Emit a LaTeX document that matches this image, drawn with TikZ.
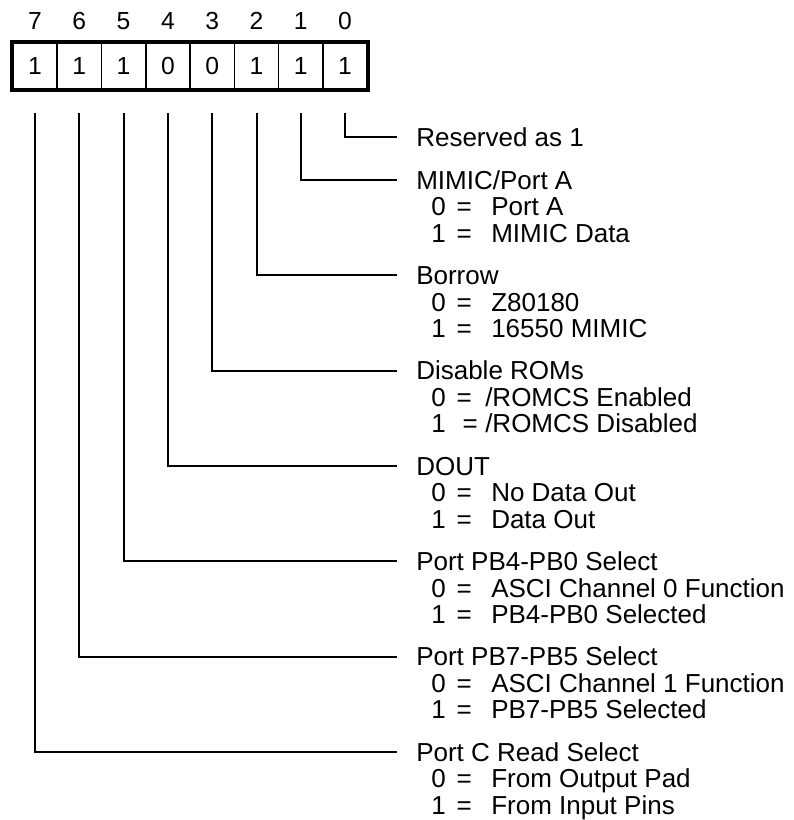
\documentclass[tikz,border=0pt]{standalone}
\usepackage{fontspec}
\setmainfont{Liberation Sans}
\NewDocumentCommand\optval{O{19.1pt}O{25.9pt}mm}{\makebox[#1][l]{#3}\makebox[#2][l]{=}#4}
\begin{document}
\begin{tikzpicture}[x=0.75pt,y=-0.75pt,
  lbl/.style={anchor=west,inner sep=0pt,text height=13.96pt,text depth=0pt,font=\fontsize{19.5}{23}\selectfont},
  optline/.style={lbl},
  hdr/.style={anchor=center,inner sep=0pt,text height=13.2pt,text depth=0pt,font=\fontsize{18.5}{22}\selectfont},
  cell/.style={draw,line width=1.1pt,minimum width=33.2pt,minimum height=35.3pt,inner sep=0pt,anchor=center,font=\fontsize{18.5}{22}\selectfont},
  wire/.style={line width=1.5pt}]
\useasboundingbox (0,0) rectangle (793,820);
% register cells and bit numbers
\foreach \b/\v [count=\k from 0] in {7/1,6/1,5/1,4/0,3/0,2/1,1/1,0/1}{
  \node[cell] (c\b) at ({35+44.3*\k},66.2) {\v};
  \node[hdr] (h\b) at ({35+44.3*\k},21) {\b};
  \coordinate (s\b) at ({35+44.3*\k},113);
}
\draw[line width=3pt] (c7.north west) rectangle (c0.south east);
% descriptions
\node[lbl] (t0) at (416,137) {Reserved as 1};
\node[lbl] (t1) at (416,180) {MIMIC/Port A};
\node[optline] (t1a) at (431,206.5) {\optval{0}{Port A}};
\node[optline] (t1b) at (431,233) {\optval{1}{MIMIC Data}};
\node[lbl] (t2) at (416,275.3) {Borrow};
\node[optline] (t2a) at (431,301.8) {\optval{0}{Z80180}};
\node[optline] (t2b) at (431,328.3) {\optval{1}{16550 MIMIC}};
\node[lbl] (t3) at (416,370.6) {Disable ROMs};
\node[optline] (t3a) at (431,397.1) {\optval[19.1pt][21.4pt]{0}{/ROMCS Enabled}};
\node[optline] (t3b) at (431,423.6) {\optval[23.5pt][17pt]{1}{/ROMCS Disabled}};
\node[lbl] (t4) at (416,465.9) {DOUT};
\node[optline] (t4a) at (431,492.4) {\optval{0}{No Data Out}};
\node[optline] (t4b) at (431,518.9) {\optval{1}{Data Out}};
\node[lbl] (t5) at (416,561.2) {Port PB4-PB0 Select};
\node[optline] (t5a) at (431,587.7) {\optval{0}{ASCI Channel 0 Function}};
\node[optline] (t5b) at (431,614.2) {\optval{1}{PB4-PB0 Selected}};
\node[lbl] (t6) at (416,656.5) {Port PB7-PB5 Select};
\node[optline] (t6a) at (431,683) {\optval{0}{ASCI Channel 1 Function}};
\node[optline] (t6b) at (431,709.5) {\optval{1}{PB7-PB5 Selected}};
\node[lbl] (t7) at (416,751.8) {Port C Read Select};
\node[optline] (t7a) at (431,778.3) {\optval{0}{From Output Pad}};
\node[optline] (t7b) at (431,804.8) {\optval{1}{From Input Pins}};
% connectors
\foreach \b in {0,...,7}{
  \draw[wire] (s\b) |- ([xshift=-14.25pt]t\b.west);
}
\end{tikzpicture}
\end{document}
